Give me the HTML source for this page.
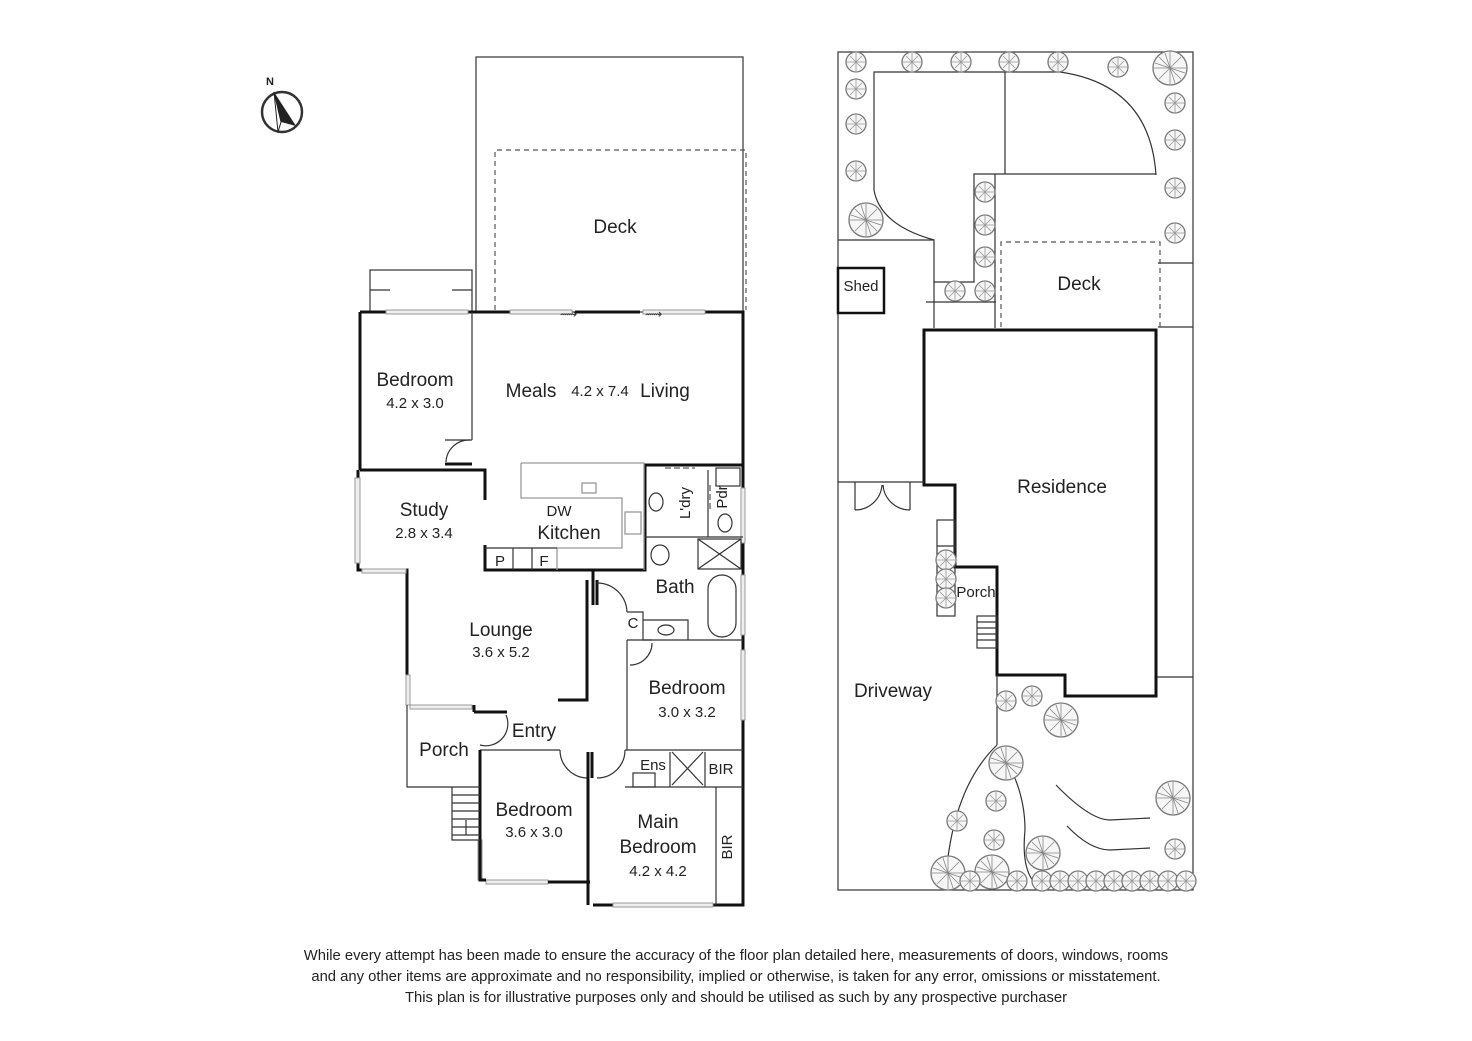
<!DOCTYPE html>
<html><head><meta charset="utf-8"><style>
html,body{margin:0;padding:0;background:#fff;}
svg{display:block;font-family:"Liberation Sans Narrow","Liberation Sans",sans-serif;}
.t{font-size:19px;fill:#222;text-anchor:middle;}
.s{font-size:15px;fill:#222;text-anchor:middle;}
.w{stroke:#111;stroke-width:3;fill:none;}
.l{stroke:#333;stroke-width:1.2;fill:none;}
.g{stroke:#999;stroke-width:1.3;fill:none;}
.d{stroke:#555;stroke-width:1.2;fill:none;stroke-dasharray:5 4;}
.win{stroke:#999;stroke-width:1;fill:#eee;}
.tr{stroke:#777;stroke-width:1.3;fill:#f6f6f6;}
</style></head><body>
<svg width="1472" height="1041" viewBox="0 0 1472 1041" xmlns="http://www.w3.org/2000/svg">
<defs>
<g id="tree"><circle r="10" class="tr"/><path d="M0-9V9M-9 0H9M-6-6L6 6M-6 6L6-6" stroke="#999" stroke-width="0.8"/></g>
<g id="btree"><circle r="17" class="tr"/><path d="M0-16V16M-16 0H16M-11-11L11 11M-11 11L11-11M-5-15L5 15M-15-5L15 5" stroke="#888" stroke-width="0.8"/></g>
</defs>

<!-- compass -->
<circle cx="282" cy="112" r="20" fill="none" stroke="#333" stroke-width="2.5"/>
<polygon points="274,92 296,126 281,122 278,132" fill="#222"/>
<polygon points="274,92 281,122 278,132" fill="#fff" stroke="#222"/>
<text x="270" y="85" font-size="11" fill="#222" font-weight="bold" text-anchor="middle">N</text>

<!-- ===== LEFT FLOOR PLAN ===== -->
<rect x="476" y="57" width="267" height="255" class="l"/>
<path d="M495 310V150H746V310" class="d"/>
<rect x="370" y="270" width="102" height="42" class="l"/>
<path d="M370 290H390M452 290H472" class="l"/>

<!-- outer walls -->
<path d="M360 312H510M575 312H640M705 312H743V905H593" class="w"/>
<path d="M360 312V470" class="w"/>
<path d="M472 312V440M472 440H445" class="l"/>
<path d="M446 462A23 23 0 0 1 470 440" class="l"/>
<path d="M445 464H472" class="w"/>
<path d="M360 470H485V500" class="w"/>
<path d="M358 470V570H407V705" class="w"/>
<path d="M485 545V570H645V465H743" class="w"/>
<!-- windows -->
<rect x="386" y="310" width="82" height="4" class="win"/>
<rect x="510" y="310" width="62" height="4" class="win"/>
<rect x="643" y="310" width="62" height="4" class="win"/>
<rect x="355" y="478" width="5" height="85" class="win"/>
<rect x="362" y="569" width="44" height="4" class="win"/>
<rect x="741" y="488" width="4" height="55" class="win"/>
<rect x="741" y="575" width="4" height="60" class="win"/>
<rect x="741" y="650" width="4" height="70" class="win"/>
<rect x="406" y="675" width="4" height="30" class="win"/>
<rect x="410" y="705" width="62" height="4" class="win"/>
<rect x="478" y="840" width="4" height="40" class="win"/>
<rect x="486" y="880" width="62" height="4" class="win"/>
<rect x="613" y="903" width="100" height="4" class="win"/>
<text x="560" y="318" font-size="12" fill="#333">⟿</text>
<text x="645" y="318" font-size="12" fill="#333">⟿</text>

<!-- kitchen -->
<path d="M521 463H644V570M521 463V498H622V548H557V570" class="g"/>
<rect x="582" y="483" width="14" height="10" class="g"/>
<rect x="625" y="512" width="16" height="22" class="g"/>
<path d="M485 548H557M513 548V570M532 548V570" class="l"/>
<text x="559" y="516" class="s" font-size="13">DW</text>
<text x="569" y="539" class="t">Kitchen</text>
<text x="500" y="566" class="s">P</text>
<text x="544" y="566" class="s">F</text>
<!-- laundry / pdr -->
<path d="M645 537H743M708 470V537" class="l"/>
<path d="M665 468H695M710 485V512" stroke="#333" stroke-dasharray="6 3"/>
<ellipse cx="656" cy="502" rx="7" ry="9" class="l"/>
<ellipse cx="725" cy="523" rx="7" ry="9" class="l"/>
<rect x="716" y="468" width="24" height="18" class="l"/>
<text x="690" y="503" class="s" transform="rotate(-90 690 503)">L'dry</text>
<text x="727" y="497" class="s" transform="rotate(-90 727 497)">Pdr</text>
<rect x="698" y="539" width="43" height="30" class="l"/>
<path d="M698 539L741 569M741 539L698 569" class="l"/>
<!-- bath -->
<ellipse cx="660" cy="555" rx="9" ry="10" class="l"/>
<rect x="708" y="575" width="28" height="62" rx="14" class="l"/>
<text x="675" y="593" class="t">Bath</text>
<path d="M593 570V605M597 580V605" class="w" stroke-width="2"/>
<path d="M597 583A30 30 0 0 1 627 612" class="l"/>
<path d="M627 612H643V640H743M643 620H688V640" class="l"/>
<ellipse cx="666" cy="630" rx="8" ry="5" class="l"/>
<text x="633" y="628" class="s" font-size="13">C</text>
<path d="M627 640V750" class="l"/>
<path d="M627 640H652M652 643A22 22 0 0 1 630 665" class="l"/>
<!-- lounge / entry -->
<path d="M587 580V700H558" class="w" stroke-width="2"/>
<path d="M474 712H507M474 712V705" class="w" stroke-width="2"/>
<path d="M480 745A22 22 0 0 0 506 715" class="l"/>
<path d="M480 750H560M560 750A28 28 0 0 0 588 778" class="l"/>
<path d="M588 752V905M592 752V778" class="w" stroke-width="2"/>
<path d="M597 778A28 28 0 0 0 625 750" class="l"/>
<path d="M480 750V880H486M548 882H590" class="w" stroke-width="2"/>
<path d="M407 705V787H480" class="l"/>
<path d="M452 787V840H480M452 795H480M452 803H480M452 811H480M452 819H480M452 827H480M452 835H480M466 835V820" class="l"/>
<!-- ens / bir -->
<path d="M625 750H743M625 787H743M670 752V787M705 752V787M716 787V905" class="l"/>
<path d="M672 752L703 785M703 752L672 785" class="l"/>
<rect x="633" y="773" width="22" height="14" class="l"/>
<text x="653" y="770" class="s">Ens</text>
<text x="721" y="774" class="s">BIR</text>
<text x="732" y="847" class="s" transform="rotate(-90 732 847)">BIR</text>

<!-- labels -->
<text x="615" y="233" class="t">Deck</text>
<text x="415" y="386" class="t">Bedroom</text>
<text x="415" y="408" class="s">4.2 x 3.0</text>
<text x="531" y="397" class="t">Meals</text>
<text x="600" y="396" class="s" font-size="16">4.2 x 7.4</text>
<text x="665" y="397" class="t">Living</text>
<text x="424" y="516" class="t">Study</text>
<text x="424" y="538" class="s">2.8 x 3.4</text>
<text x="501" y="636" class="t">Lounge</text>
<text x="501" y="657" class="s">3.6 x 5.2</text>
<text x="687" y="694" class="t">Bedroom</text>
<text x="687" y="717" class="s">3.0 x 3.2</text>
<text x="534" y="737" class="t">Entry</text>
<text x="444" y="756" class="t">Porch</text>
<text x="534" y="816" class="t">Bedroom</text>
<text x="534" y="837" class="s">3.6 x 3.0</text>
<text x="658" y="828" class="t">Main</text>
<text x="658" y="853" class="t">Bedroom</text>
<text x="658" y="876" class="s">4.2 x 4.2</text>

<!-- ===== RIGHT SITE PLAN ===== -->
<rect x="838" y="52" width="355" height="838" class="l"/>
<path d="M874 72H1060Q1150 85 1156 175V174H974V282H934V240Q880 225 874 190Z" class="l"/>
<path d="M1005 72V174M838 240H934M934 282V328M995 174V328M926 302H996M1158 263H1193M1158 327H1193M1157 677H1193" class="l"/>
<path d="M1001 327V242H1160V327" class="d"/>
<rect x="838" y="268" width="46" height="45" fill="none" stroke="#111" stroke-width="2.5"/>
<text x="861" y="291" class="s">Shed</text>
<text x="1079" y="290" class="t">Deck</text>
<path d="M924 330H1156V696H1065V675H997V567H955V485H924Z" class="w" stroke-width="2.5"/>
<path d="M838 482H924M997 675V745" class="l"/>
<path d="M855 482V510M910 482V510M855 510A27 27 0 0 0 882 485M910 510A27 27 0 0 1 883 485" class="l"/>
<rect x="937" y="520" width="18" height="96" class="l"/>
<path d="M937 546H955" class="l"/>
<rect x="977" y="616" width="20" height="32" class="l"/>
<path d="M977 622H997M977 628H997M977 634H997M977 640H997" class="l"/>
<text x="1062" y="493" class="t">Residence</text>
<text x="976" y="597" class="s">Porch</text>
<text x="893" y="697" class="t">Driveway</text>
<path d="M997 745Q950 790 945 890M1003 755Q1025 790 1025 830Q1020 880 1045 890" class="l"/>
<path d="M1056 785Q1090 820 1110 820L1150 818M1067 826Q1090 850 1110 850L1150 848" class="l"/>
<!-- trees -->
<use href="#tree" x="856" y="62"/><use href="#tree" x="912" y="62"/><use href="#tree" x="961" y="62"/><use href="#tree" x="1009" y="62"/><use href="#tree" x="1058" y="62"/><use href="#tree" x="1118" y="67"/>
<use href="#btree" x="1170" y="68"/>
<use href="#tree" x="856" y="89"/><use href="#tree" x="856" y="124"/><use href="#tree" x="856" y="171"/><use href="#btree" x="866" y="220"/>
<use href="#tree" x="1175" y="103"/><use href="#tree" x="1175" y="140"/><use href="#tree" x="1175" y="188"/><use href="#tree" x="1175" y="233"/>
<use href="#tree" x="985" y="192"/><use href="#tree" x="985" y="225"/><use href="#tree" x="985" y="257"/><use href="#tree" x="955" y="291"/><use href="#tree" x="985" y="291"/>
<use href="#tree" x="946" y="560"/><use href="#tree" x="946" y="579"/><use href="#tree" x="946" y="598"/>
<use href="#tree" x="1006" y="701"/><use href="#tree" x="1032" y="696"/><use href="#btree" x="1061" y="720"/>
<use href="#btree" x="1006" y="763"/><use href="#tree" x="996" y="801"/><use href="#tree" x="957" y="821"/><use href="#tree" x="994" y="840"/>
<use href="#btree" x="1043" y="853"/><use href="#btree" x="948" y="873"/><use href="#btree" x="992" y="872"/>
<use href="#btree" x="1173" y="798"/><use href="#tree" x="1175" y="849"/>
<use href="#tree" x="970" y="881"/><use href="#tree" x="1017" y="881"/><use href="#tree" x="1042" y="881"/><use href="#tree" x="1060" y="881"/><use href="#tree" x="1078" y="881"/><use href="#tree" x="1096" y="881"/><use href="#tree" x="1114" y="881"/><use href="#tree" x="1132" y="881"/><use href="#tree" x="1150" y="881"/><use href="#tree" x="1168" y="881"/><use href="#tree" x="1186" y="881"/>

<!-- disclaimer -->
<text x="736" y="960" font-size="14.8" fill="#222" text-anchor="middle">While every attempt has been made to ensure the accuracy of the floor plan detailed here, measurements of doors, windows, rooms</text>
<text x="736" y="981" font-size="14.8" fill="#222" text-anchor="middle">and any other items are approximate and no responsibility, implied or otherwise, is taken for any error, omissions or misstatement.</text>
<text x="736" y="1002" font-size="14.8" fill="#222" text-anchor="middle">This plan is for illustrative purposes only and should be utilised as such by any prospective purchaser</text>
</svg>
</body></html>
